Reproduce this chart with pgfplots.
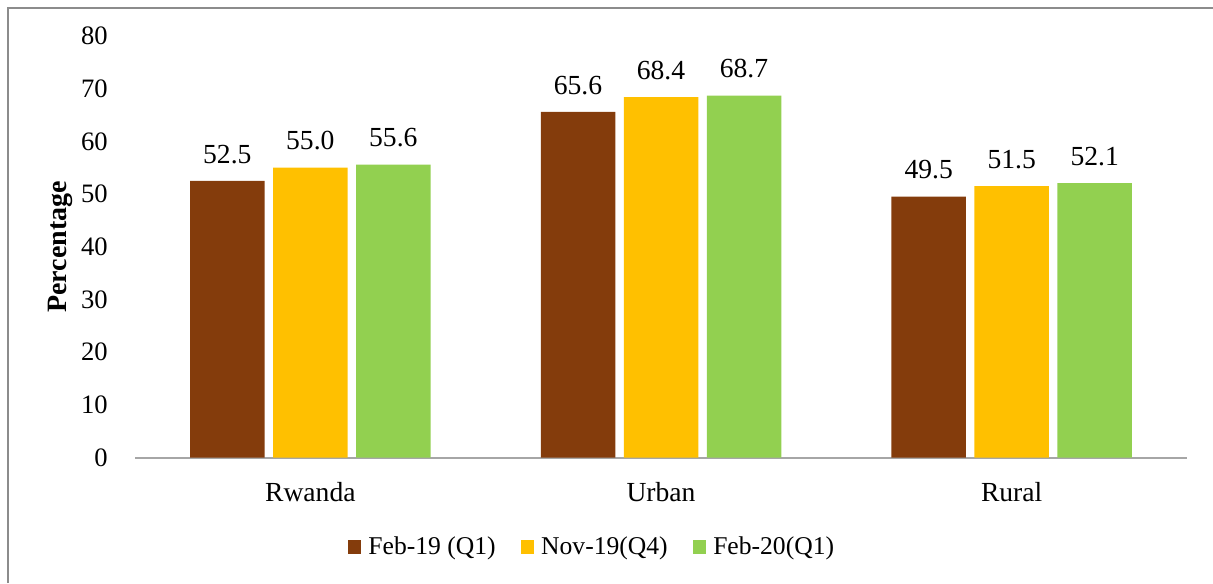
\documentclass[border=0pt]{standalone}
\usepackage{pgfplots}
\pgfplotsset{compat=1.18}
\usepackage{fontspec}
\setmainfont{Liberation Serif}
\definecolor{cBrown}{HTML}{843C0C}
\definecolor{cYellow}{HTML}{FFC000}
\definecolor{cGreen}{HTML}{92D050}
\definecolor{frameGray}{HTML}{8C8C8C}
\definecolor{axisGray}{HTML}{A6A6A6}
\begin{document}
\begin{tikzpicture}
\useasboundingbox (0,0) rectangle (606.5pt,291.5pt);
\draw[frameGray,line width=1pt] (4pt,0) -- (4pt,287.5pt) -- (606.5pt,287.5pt);
\begin{axis}[
at={(67.5pt,62.75pt)},anchor=south west,
scale only axis,width=526pt,height=210.75pt,
ybar=4.25pt,bar width=37.25pt,
xmin=-0.5,xmax=2.5,ymin=0,ymax=80,
xtick={0,1,2},xticklabels={Rwanda,Urban,Rural},
ytick={0,10,...,80},
major tick length=0pt,
axis lines*=left,
axis line style={-},
x axis line style={axisGray,line width=1pt},
y axis line style={draw=none},
/pgf/number format/assume math mode=true,
yticklabel style={font=\fontsize{13.3pt}{15pt}\selectfont,inner sep=0pt,xshift=-13.5pt},
xticklabel style={font=\fontsize{13.8pt}{16pt}\selectfont,inner sep=0pt,yshift=-12pt},
ylabel={\textbf{Percentage}},
ylabel style={at={([xshift=-37.5pt]rel axis cs:0,0.5)},rotate=0,anchor=center,font=\fontsize{14pt}{16pt}\selectfont},
point meta=explicit symbolic,
nodes near coords,
nodes near coords style={font=\fontsize{13.8pt}{16pt}\selectfont,inner sep=0pt,anchor=south,yshift=8.5pt},
legend columns=3,
legend style={at={(0.4349,-0.2123)},anchor=center,draw=none,
  font=\fontsize{12.8pt}{14pt}\selectfont,
  nodes={inner sep=1.5pt},
  /tikz/every odd column/.append style={column sep=2pt},
  /tikz/every even column/.append style={column sep=11pt}},
legend image code/.code={\fill[#1] (0pt,-3.375pt) rectangle (6.75pt,3.375pt);},
]
\addplot[fill=cBrown,draw=none] coordinates {(0,52.5) [52.5] (1,65.6) [65.6] (2,49.5) [49.5]};
\addplot[fill=cYellow,draw=none] coordinates {(0,55.0) [55.0] (1,68.4) [68.4] (2,51.5) [51.5]};
\addplot[fill=cGreen,draw=none] coordinates {(0,55.6) [55.6] (1,68.7) [68.7] (2,52.1) [52.1]};
\legend{Feb-19 (Q1),Nov-19(Q4),Feb-20(Q1)}
\end{axis}
\end{tikzpicture}
\end{document}
